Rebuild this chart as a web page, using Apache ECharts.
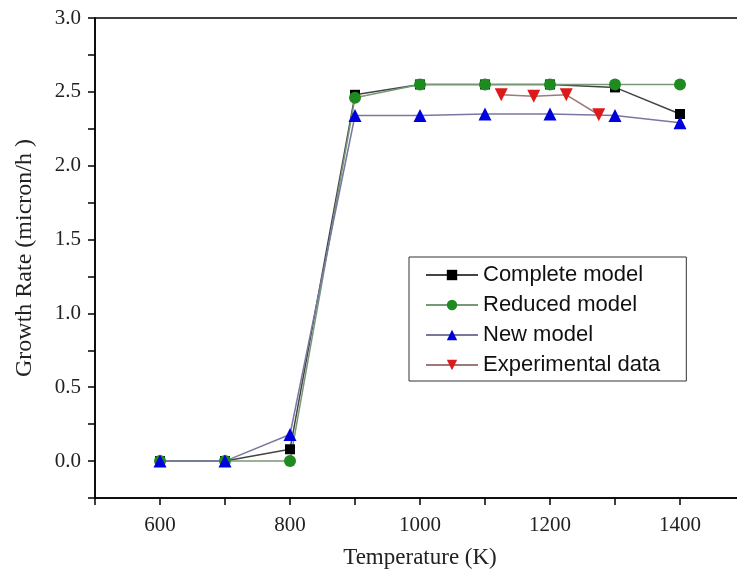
<!DOCTYPE html>
<html>
<head>
<meta charset="utf-8">
<script src="https://cdn.jsdelivr.net/npm/echarts@6/dist/echarts.min.js"></script>
<style>
html,body{margin:0;padding:0;background:#fff;}
#main{width:737px;height:574px;}
</style>
</head>
<body>
<div id="main"></div>
<script>
// Data
var temps = [600, 700, 800, 900, 1000, 1100, 1200, 1300, 1400];
var completeModel = [0, 0, 0.08, 2.48, 2.55, 2.55, 2.55, 2.53, 2.35];
var reducedModel = [0, 0, 0, 2.46, 2.55, 2.55, 2.55, 2.55, 2.55];
var newModel = [0, 0, 0.18, 2.34, 2.34, 2.35, 2.35, 2.34, 2.29];
var expTemps = [1125, 1175, 1225, 1275];
var expData = [2.48, 2.47, 2.48, 2.345];
var seriesNames = ['Complete model', 'Reduced model', 'New model', 'Experimental data'];

function pairs(xs, ys) { return xs.map(function (x, i) { return [x, ys[i]]; }); }

var chart = echarts.init(document.getElementById('main'), null, {renderer: 'canvas'});
var serif = 'Liberation Serif';
chart.setOption({
  animation: false,
  backgroundColor: '#fff',
  grid: {left: 95, top: 18, right: -8, bottom: 76, show: true, borderColor: '#000', borderWidth: 1.5,
         backgroundColor: 'transparent', containLabel: false, outerBoundsMode: 'none'},
  legend: {
    orient: 'vertical', left: 409, top: 257,
    padding: [7, 26, 5, 16],
    itemGap: 8, itemWidth: 52, itemHeight: 13,
    borderColor: '#333', borderWidth: 1, backgroundColor: '#fff',
    textStyle: {fontFamily: 'Liberation Sans', fontSize: 22, color: '#111', lineHeight: 21},
    data: seriesNames
  },
  xAxis: {
    type: 'value', min: 500, max: 1500, interval: 100,
    name: 'Temperature (K)', nameLocation: 'middle', nameGap: 48,
    nameTextStyle: {fontFamily: serif, fontSize: 23, color: '#222'},
    axisLine: {show: true, onZero: false, lineStyle: {color: '#000', width: 1.5}},
    axisTick: {show: true, inside: false, length: 7, lineStyle: {color: '#000', width: 1.5}},
    axisLabel: {
      margin: 17, fontFamily: serif, fontSize: 21, color: '#222',
      formatter: function (v) { return (Math.round(v) % 200 === 0) ? String(Math.round(v)) : ''; }
    },
    splitLine: {show: false}
  },
  yAxis: {
    type: 'value', min: -0.25, max: 3.0, interval: 0.25,
    name: 'Growth Rate (micron/h )', nameLocation: 'middle', nameGap: 58,
    nameTextStyle: {fontFamily: serif, fontSize: 24, color: '#222'},
    axisLine: {show: true, onZero: false, lineStyle: {color: '#000', width: 1.5}},
    axisTick: {show: true, inside: false, length: 7, lineStyle: {color: '#000', width: 1.5}},
    axisLabel: {
      margin: 14, fontFamily: serif, fontSize: 21, color: '#222',
      formatter: function (v) {
        var d = v * 2;
        return (Math.abs(d - Math.round(d)) < 1e-9 && v > -0.01) ? v.toFixed(1) : '';
      }
    },
    splitLine: {show: false}
  },
  series: [
    {
      name: seriesNames[0], type: 'line', data: pairs(temps, completeModel),
      symbol: 'rect', symbolSize: 10,
      itemStyle: {color: '#000'},
      lineStyle: {color: '#444', width: 1.5}
    },
    {
      name: seriesNames[1], type: 'line', data: pairs(temps, reducedModel),
      symbol: 'circle', symbolSize: 12,
      itemStyle: {color: '#1f8a1f'},
      lineStyle: {color: '#789878', width: 1.5}
    },
    {
      name: seriesNames[2], type: 'line', data: pairs(temps, newModel),
      symbol: 'triangle', symbolSize: 13,
      itemStyle: {color: '#0000dd'},
      lineStyle: {color: '#7878a0', width: 1.5}
    },
    {
      name: seriesNames[3], type: 'line', data: pairs(expTemps, expData),
      symbol: 'triangle', symbolSize: 13, symbolRotate: 180,
      itemStyle: {color: '#dd1a1a'},
      lineStyle: {color: '#a07878', width: 1.5}
    }
  ]
});
</script>
</body>
</html>
